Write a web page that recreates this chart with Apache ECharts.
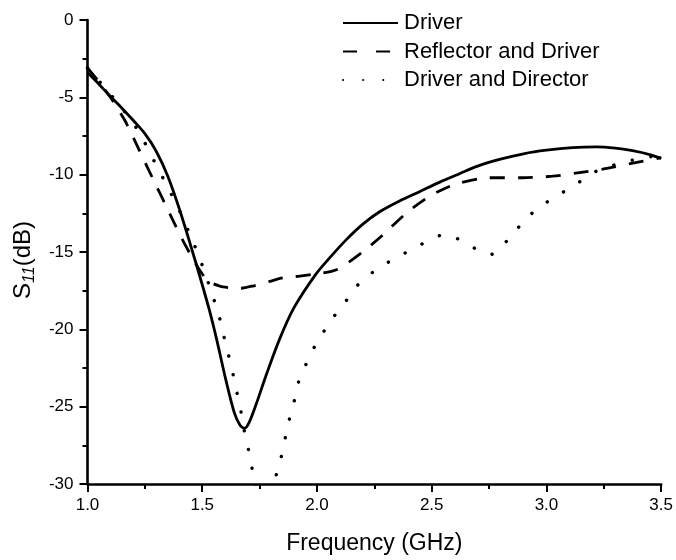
<!DOCTYPE html>
<html>
<head>
<meta charset="utf-8">
<script src="https://cdn.jsdelivr.net/npm/echarts@6/dist/echarts.min.js"></script>
<style>
  html, body { margin: 0; padding: 0; background: #fff; }
  #chart { width: 676px; height: 560px; }
</style>
</head>
<body>
<div id="chart"></div>
<script>
// Return loss S11 (dB) versus frequency (GHz) for three antenna configurations
const seriesNames = ['Driver', 'Reflector and Driver', 'Driver and Director'];

const driverFreq = [1.0, 1.05, 1.1, 1.15, 1.2, 1.25, 1.3, 1.35, 1.4, 1.45, 1.49, 1.53, 1.562, 1.605, 1.64, 1.665, 1.685, 1.705, 1.736, 1.78, 1.838, 1.9, 1.997, 2.06, 2.128, 2.2, 2.273, 2.36, 2.447, 2.533, 2.621, 2.7, 2.8, 2.9, 3.0, 3.114, 3.216, 3.3, 3.375, 3.45, 3.5];
const driverS11 = [-3.4, -4.15, -4.95, -5.7, -6.5, -7.35, -8.5, -10.1, -12.2, -14.6, -16.6, -18.7, -20.6, -23.4, -25.4, -26.2, -26.4, -26.0, -24.8, -22.9, -20.6, -18.6, -16.4, -15.3, -14.2, -13.2, -12.4, -11.7, -11.1, -10.5, -9.94, -9.45, -9.0, -8.65, -8.42, -8.25, -8.2, -8.28, -8.45, -8.7, -8.95];

const reflFreq = [1.0, 1.05, 1.1, 1.163, 1.228, 1.286, 1.345, 1.4, 1.45, 1.49, 1.52, 1.54, 1.591, 1.664, 1.72, 1.794, 1.85, 1.925, 1.98, 2.085, 2.2, 2.287, 2.388, 2.496, 2.606, 2.75, 2.896, 3.027, 3.128, 3.245, 3.405, 3.5];
const reflS11 = [-3.1, -4.0, -5.0, -6.5, -8.5, -10.3, -12.1, -13.8, -15.2, -16.2, -16.8, -17.0, -17.26, -17.35, -17.2, -16.9, -16.67, -16.56, -16.45, -16.15, -14.98, -13.9, -12.5, -11.35, -10.6, -10.2, -10.2, -10.1, -9.9, -9.64, -9.17, -8.9];

const dirFreq = [1.0, 1.1, 1.214, 1.289, 1.363, 1.40, 1.45, 1.495, 1.547, 1.572, 1.591, 1.61, 1.63, 1.645, 1.664, 1.678, 1.696, 1.711, 1.727, 1.75, 1.775, 1.80, 1.826, 1.845, 1.862, 1.88, 1.90, 1.92, 1.951, 1.983, 2.023, 2.067, 2.116, 2.164, 2.226, 2.295, 2.367, 2.435, 2.508, 2.55, 2.587, 2.657, 2.73, 2.76, 2.795, 2.853, 2.904, 2.97, 3.037, 3.104, 3.168, 3.24, 3.317, 3.4, 3.5];
const dirS11 = [-3.1, -4.8, -7.0, -9.08, -11.2, -12.3, -14.0, -15.65, -17.9, -19.06, -20.26, -21.4, -22.6, -23.7, -24.9, -26.2, -27.4, -28.5, -29.76, -31.0, -31.5, -30.8, -29.2, -28.2, -27.0, -25.8, -24.7, -23.4, -22.3, -21.3, -20.3, -19.3, -18.4, -17.35, -16.5, -15.8, -15.2, -14.66, -14.1, -13.9, -13.97, -14.5, -15.1, -15.15, -14.76, -13.87, -12.95, -12.1, -11.45, -10.85, -10.24, -9.6, -9.3, -8.97, -8.75];

const xTicks = { min: 1.0, max: 3.5, step: 0.5 };
const yTicks = { min: -30, max: 0, step: 5 };

function pairs(xs, ys) {
  return xs.map((x, i) => [x, ys[i]]);
}

const FONT = 'Liberation Sans, Arial, sans-serif';
const INK = '#000';

const chart = echarts.init(document.getElementById('chart'), null, { renderer: 'canvas' });

const axisCommon = {
  axisLine: { show: true, onZero: false, lineStyle: { color: INK, width: 2.6 } },
  axisTick: { show: true, inside: false, length: 8, lineStyle: { color: INK, width: 2 } },
  minorTick: { show: true, splitNumber: 2, length: 5, lineStyle: { color: INK, width: 2 } },
  splitLine: { show: false },
  axisLabel: { color: INK, fontFamily: FONT, fontSize: 17 }
};

chart.setOption({
  animation: false,
  backgroundColor: '#fff',
  grid: { left: 87.5, right: 14, top: 20, bottom: 72, containLabel: false },
  legend: {
    orient: 'vertical',
    left: 342,
    top: 12,
    padding: 0,
    itemWidth: 55,
    itemHeight: 14,
    itemGap: 6.5,
    itemStyle: { opacity: 0 },
    textStyle: { color: INK, fontFamily: FONT, fontSize: 22, lineHeight: 22, padding: [0, 0, 0, 1] },
    data: [
      { name: seriesNames[0] },
      { name: seriesNames[1], lineStyle: { type: [14, 19] } },
      { name: seriesNames[2], lineStyle: { type: [0.1, 20], cap: 'round' } }
    ]
  },
  xAxis: Object.assign({}, axisCommon, {
    type: 'value',
    min: xTicks.min,
    max: xTicks.max,
    interval: xTicks.step,
    axisLabel: Object.assign({}, axisCommon.axisLabel, {
      margin: 13,
      formatter: v => v.toFixed(1)
    }),
    name: 'Frequency (GHz)',
    nameLocation: 'middle',
    nameGap: 48,
    nameTextStyle: { color: INK, fontFamily: FONT, fontSize: 23 }
  }),
  yAxis: Object.assign({}, axisCommon, {
    type: 'value',
    min: yTicks.min,
    max: yTicks.max,
    interval: yTicks.step,
    axisLabel: Object.assign({}, axisCommon.axisLabel, { margin: 14 }),
    name: '{m|S}{s|11}{m|(dB)}',
    nameLocation: 'middle',
    nameRotate: 90,
    nameGap: 50,
    nameTextStyle: {
      padding: [0, 16, 0, 0],
      rich: {
        m: { color: INK, fontFamily: FONT, fontSize: 24 },
        s: { color: INK, fontFamily: FONT, fontSize: 16, fontStyle: 'italic', verticalAlign: 'bottom', padding: [12, 0, 0, 0] }
      }
    }
  }),
  series: [
    {
      name: seriesNames[0],
      type: 'line',
      data: pairs(driverFreq, driverS11),
      symbol: 'none',
      smooth: 0.3,
      clip: true,
      lineStyle: { color: INK, width: 2.8, type: 'solid' }
    },
    {
      name: seriesNames[1],
      type: 'line',
      data: pairs(reflFreq, reflS11),
      symbol: 'none',
      smooth: 0.25,
      clip: true,
      lineStyle: { color: INK, width: 2.8, type: [15, 13] }
    },
    {
      name: seriesNames[2],
      type: 'line',
      data: pairs(dirFreq, dirS11),
      symbol: 'none',
      smooth: 0.3,
      clip: true,
      lineStyle: { color: INK, width: 3.4, type: [0.1, 19], cap: 'round' }
    }
  ]
});
</script>
</body>
</html>
